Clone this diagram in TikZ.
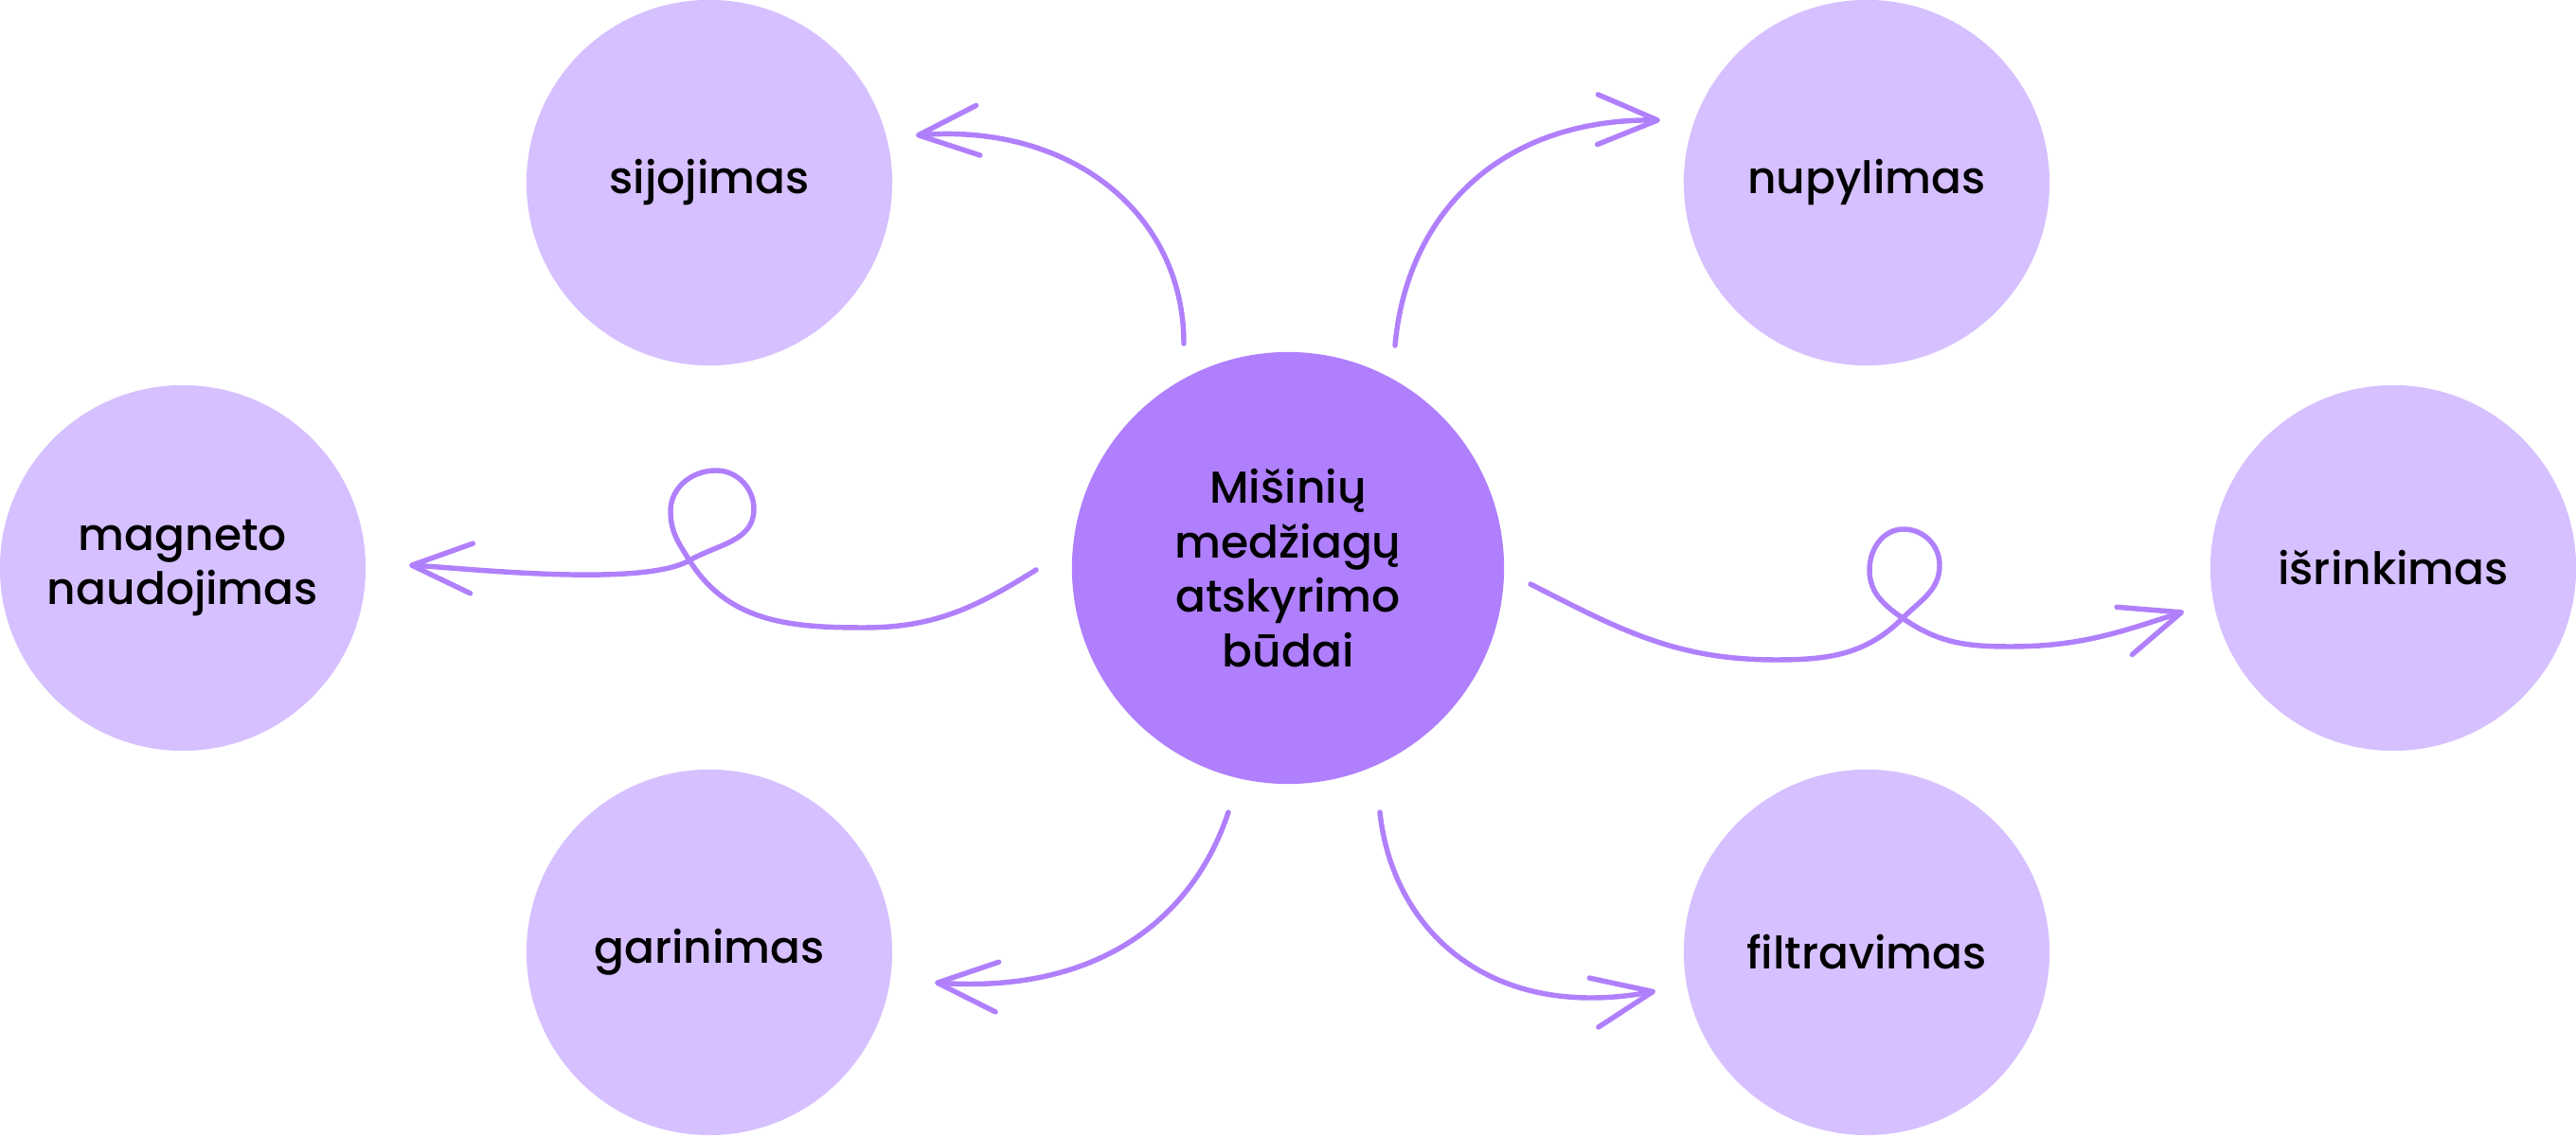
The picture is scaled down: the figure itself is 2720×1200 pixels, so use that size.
\documentclass[tikz,border=0pt]{standalone}
\usepackage{fontspec}
\setmainfont{Poppins}[UprightFont={* Medium}]
\usetikzlibrary{arrows.meta}
\definecolor{hubviolet}{HTML}{AF7FFD}
\definecolor{leafviolet}{HTML}{D6C0FF}
\definecolor{lineviolet}{HTML}{B080FC}

\begin{document}
\begin{tikzpicture}[
        x=0.01cm, y=0.01cm,
        hub/.style={circle, fill=hubviolet, minimum size=4.56cm, inner sep=0pt,
          align=center, font=\fontsize{13.4}{16.4}\selectfont},
        leaf/.style={circle, fill=leafviolet, minimum size=3.86cm, inner sep=0pt,
          align=center, font=\fontsize{13.4}{16.4}\selectfont},
        link/.style={draw=lineviolet, line width=1.55pt, line cap=round, line join=round,
          -{Straight Barb[length=18pt, width=15pt, line cap=round, line join=round]}}]

      \useasboundingbox (0,0) rectangle (2720,1200);

      \node[hub] (mix) at (1360,600) {Mišinių\\medžiagų\\atskyrimo\\būdai};

      \node[leaf] (sij) at (749,1007) {sijojimas};
      \node[leaf] (nup) at (1971,1007) {nupylimas};
      \node[leaf] (mag) at (193,600) {magneto\\naudojimas};
      \node[leaf] (isr) at (2527,600) {išrinkimas};
      \node[leaf] (gar) at (749,194) {garinimas};
      \node[leaf] (fil) at (1971,194) {filtravimas};

      \coordinate (a1) at (1250,837);  \coordinate (b1) at (967,1057);
      \coordinate (a2) at (1473,835);  \coordinate (b2) at (1753,1073);
      \coordinate (a3) at (1297,342);  \coordinate (b3) at (987,162);
      \coordinate (a4) at (1457,342);  \coordinate (b4) at (1748,153);
      \coordinate (a5) at (1094,598);  \coordinate (b5) at (432,603);
      \coordinate (a6) at (1616,583);  \coordinate (b6) at (2306,554);

      \draw[link] (a1) .. controls (1250,975) and (1130,1070) .. (b1);
      \draw[link] (a2) .. controls (1485,970) and (1580,1075) .. (b2);
      \draw[link] (a3) .. controls (1260,230) and (1160,150) .. (b3);
      \draw[link] (a4) .. controls (1470,220) and (1570,120) .. (b4);

      % looped arrows
      \draw[link] (a5) to[out=212,in=0] (912,537) to[out=180,in=-58] (728,608)
        to[out=122,in=270] (708,660) to[out=90,in=180] (756,703)
        to[out=0,in=90] (796,662) to[out=270,in=30] (728,608)
        to[out=210,in=-3,looseness=0.5] (b5);
      \draw[link] (a6) to[out=-27,in=180] (1875,503) to[out=0,in=225] (2009,547)
        to[out=45,in=270] (2048,603) to[out=90,in=0] (2010,641)
        to[out=180,in=90] (1974,598) to[out=270,in=145] (2009,547)
        to[out=-35,in=180] (2122,517) to[out=0,in=198] (b6);

    \end{tikzpicture}
\end{document}
